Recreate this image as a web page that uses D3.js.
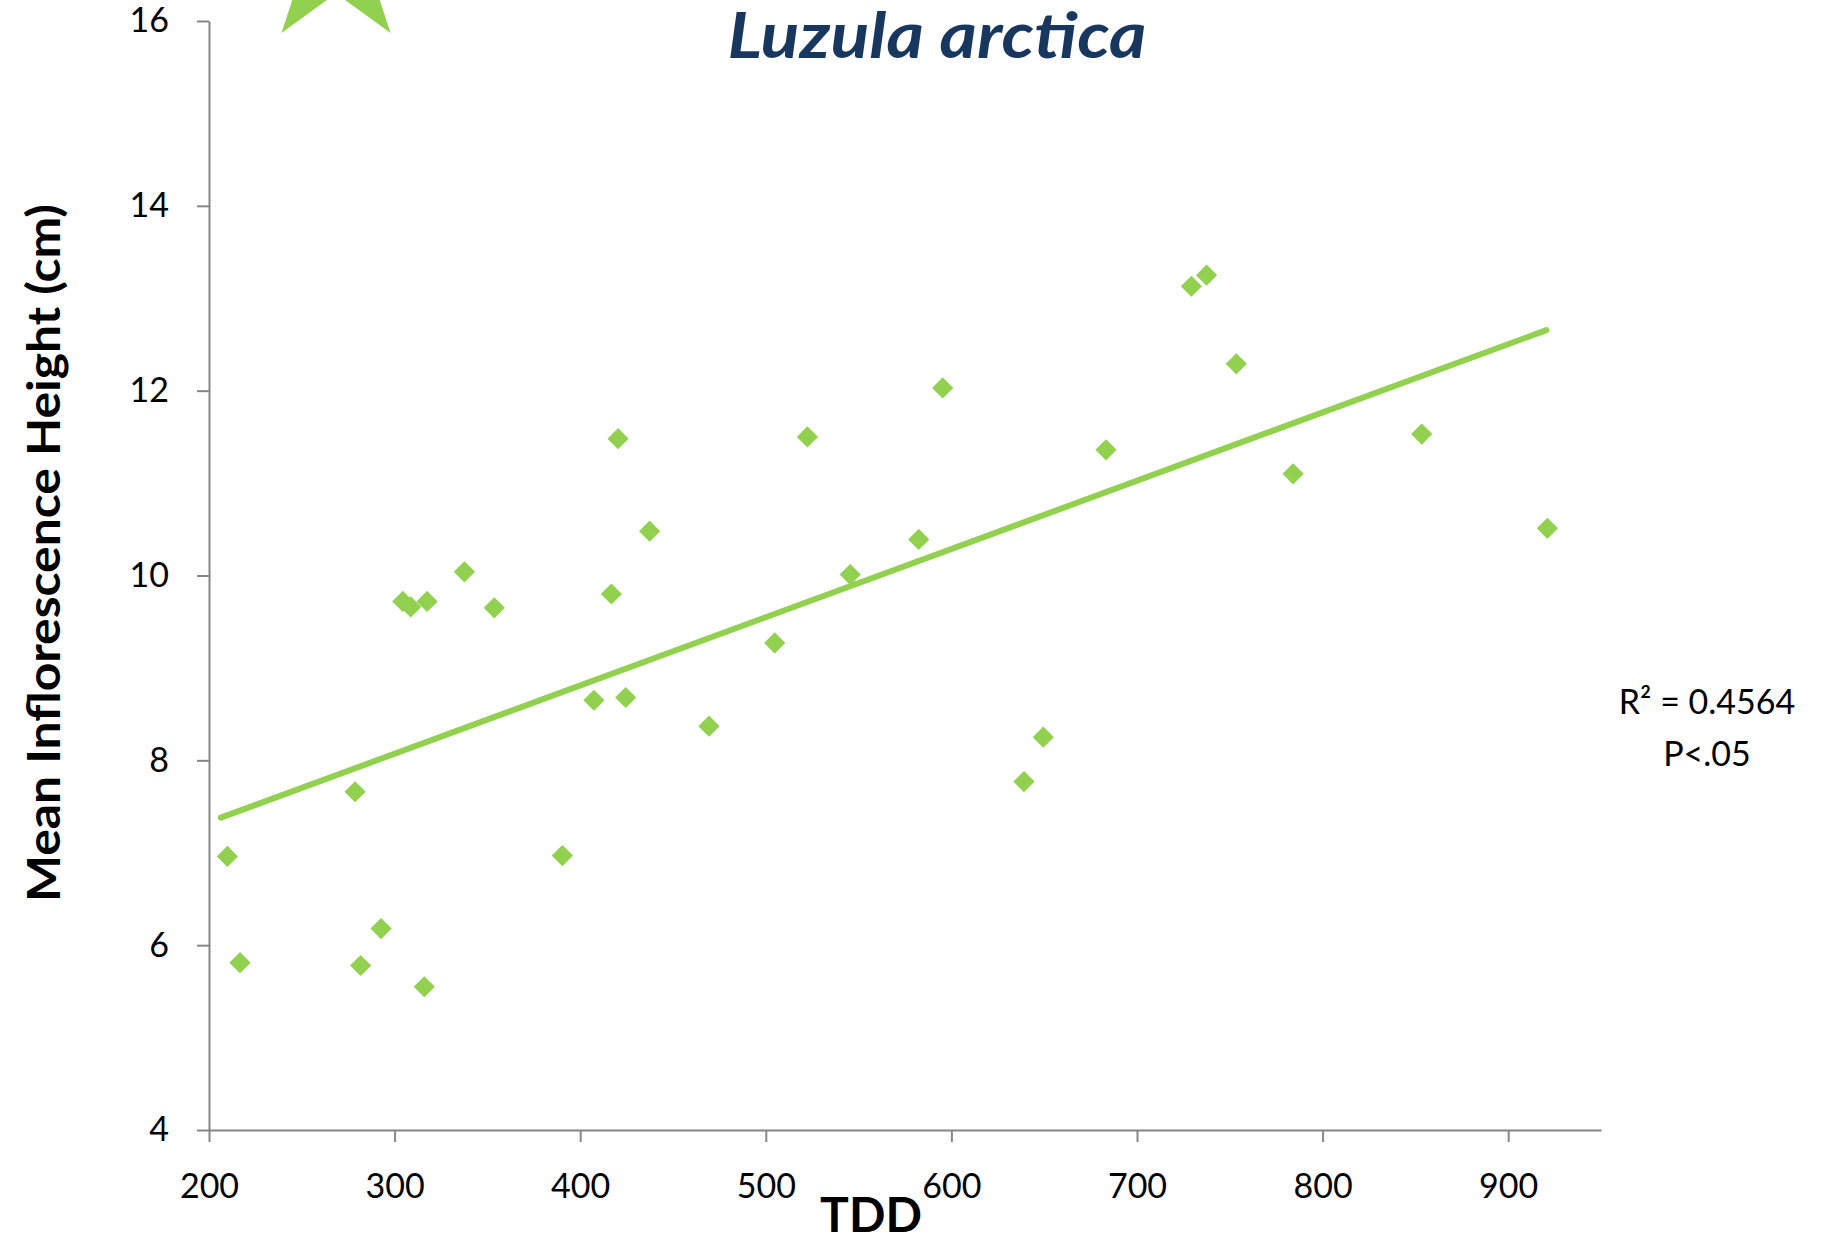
<!DOCTYPE html>
<html>
<head>
<meta charset="utf-8">
<script src="https://cdn.jsdelivr.net/npm/d3@7"></script>
<style>
  html, body { margin: 0; padding: 0; background: #fff; }
  svg { display: block; }
</style>
</head>
<body>
<svg id="chart" width="1824" height="1238"></svg>
<script>
// ---- data ----
const tdd = [209.9, 216.7, 278.7, 281.7, 292.7, 304.4, 308.7, 317.5, 316.0, 337.6,
             353.7, 390.4, 407.4, 416.8, 420.4, 424.5, 437.4, 469.4, 504.8, 522.4,
             545.5, 582.4, 595.3, 639.1, 649.5, 683.3, 729.3, 737.5, 753.5, 784.1,
             853.4, 921.1];
const inflHeight = [6.96, 5.81, 7.66, 5.78, 6.18, 9.72, 9.66, 9.72, 5.55, 10.04,
                    9.65, 6.97, 8.65, 9.80, 11.48, 8.68, 10.48, 8.37, 9.27, 11.50,
                    10.01, 10.39, 12.03, 7.77, 8.25, 11.36, 13.13, 13.25, 12.29, 11.10,
                    11.53, 10.51];
const trendX = [206.4, 920.6];
const trendY = [7.38, 12.655];
const xTicks = [200, 300, 400, 500, 600, 700, 800, 900];
const yTicks = [4, 6, 8, 10, 12, 14, 16];
const titleText = "Luzula arctica";
const xTitle = "TDD";
const yTitle = "Mean Inflorescence Height (cm)";
const statLines = ["R\u00B2 = 0.4564", "P<.05"];

// ---- layout ----
const svg = d3.select("#chart");
const green = "#92D050";
const axisColor = "#868686";

const x = d3.scaleLinear().domain([200, 950]).range([209, 1601]);
const y = d3.scaleLinear().domain([4, 16]).range([1130, 21]);

// decorative star (partly off the top edge)
svg.append("path")
  .attr("d", d3.symbol(d3.symbolStar, 9650)())
  .attr("transform", "translate(336,-42)")
  .attr("fill", green);

// axes
const xAxis = svg.append("g")
  .attr("transform", `translate(0,${y(4)})`)
  .call(d3.axisBottom(x).tickValues(xTicks).tickSize(12).tickSizeOuter(0).tickPadding(32));
const yAxis = svg.append("g")
  .attr("transform", `translate(${x(200)},0)`)
  .call(d3.axisLeft(y).tickValues(yTicks).tickSize(12).tickSizeOuter(0).tickPadding(28));

[xAxis, yAxis].forEach(g => {
  g.select(".domain").attr("stroke", axisColor).attr("stroke-width", 2);
  g.selectAll(".tick line").attr("stroke", axisColor).attr("stroke-width", 2);
  g.selectAll(".tick text")
    .attr("fill", "#000")
    .style("font-family", "Lato, 'Open Sans', sans-serif")
    .style("font-size", "34px");
});

// trend line
svg.append("path")
  .datum(trendX.map((v, i) => [v, trendY[i]]))
  .attr("d", d3.line().x(d => x(d[0])).y(d => y(d[1])))
  .attr("stroke", green)
  .attr("stroke-width", 6)
  .attr("stroke-linecap", "round")
  .attr("fill", "none");

// points (diamonds)
svg.append("g").selectAll("path")
  .data(tdd.map((v, i) => [v, inflHeight[i]]))
  .join("path")
  .attr("d", d3.symbol(d3.symbolSquare, 225)())
  .attr("transform", d => `translate(${x(d[0])},${y(d[1])}) rotate(45)`)
  .attr("fill", green);

// title
svg.append("text")
  .attr("x", 937).attr("y", 58)
  .attr("text-anchor", "middle")
  .attr("textLength", 419).attr("lengthAdjust", "spacingAndGlyphs")
  .style("font-family", "Lato, 'Open Sans', sans-serif")
  .style("font-weight", "bold").style("font-style", "italic")
  .style("font-size", "64px")
  .attr("fill", "#17375E")
  .text(titleText);

// axis titles
svg.append("text")
  .attr("x", 871).attr("y", 1232)
  .attr("text-anchor", "middle")
  .style("font-family", "Lato, 'Open Sans', sans-serif")
  .style("font-weight", "bold")
  .style("font-size", "48px")
  .attr("fill", "#000")
  .text(xTitle);

svg.append("text")
  .attr("transform", "translate(60,553) rotate(-90)")
  .attr("text-anchor", "middle")
  .attr("textLength", 698).attr("lengthAdjust", "spacingAndGlyphs")
  .style("font-family", "Lato, 'Open Sans', sans-serif")
  .style("font-weight", "bold")
  .style("font-size", "46px")
  .attr("fill", "#000")
  .text(yTitle);

// stats annotation
svg.append("g").selectAll("text")
  .data(statLines)
  .join("text")
  .attr("x", 1707)
  .attr("y", (d, i) => 714 + i * 52)
  .attr("text-anchor", "middle")
  .style("font-family", "Lato, 'Open Sans', sans-serif")
  .style("font-size", "34px")
  .attr("fill", "#000")
  .text(d => d);
</script>
</body>
</html>
